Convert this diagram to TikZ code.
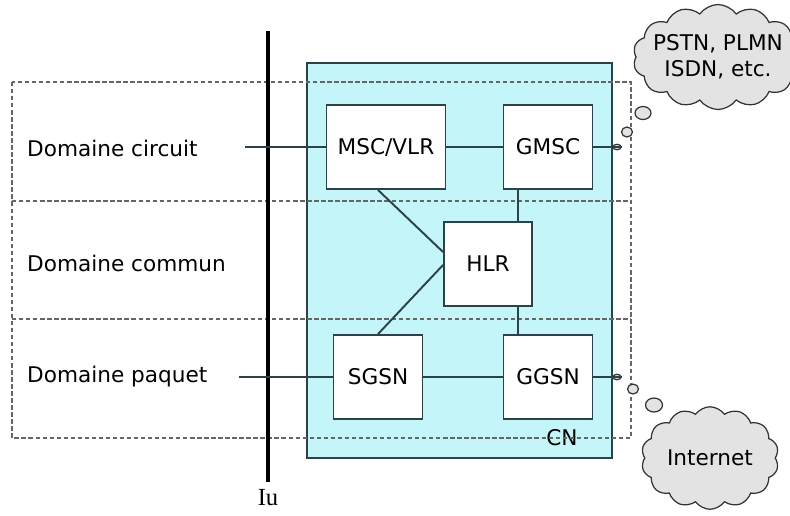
\documentclass[tikz,border=0pt]{standalone}
\usepackage{fontspec}
\setmainfont{DejaVu Sans}
\newfontfamily\iufont{Liberation Serif}
\usepackage{xcolor}
\usepackage{tikz}
\usetikzlibrary{positioning, shapes.geometric, shapes.symbols}
\definecolor{cnfill}{HTML}{C4F5F8}
\definecolor{cnline}{HTML}{2B4346}
\definecolor{cloudfill}{HTML}{E3E3E3}

\begin{document}
\begin{tikzpicture}[
  x=0.02cm, y=-0.02cm,
  every node/.style={font=\fontsize{12.3}{15}\selectfont},
  elem/.style={rectangle, draw=cnline, fill=white, line width=1.1pt,
    minimum width=#1, minimum height=1.68cm, inner sep=0pt},
  elem/.default=1.78cm,
  domline/.style={draw=gray!80!black, dash pattern=on 2.5pt off 1.5pt, line width=0.7pt},
  link/.style={draw=cnline, line width=1.1pt},
  bubble/.style={ellipse, draw=gray!40!black, fill=cloudfill, line width=0.7pt, inner sep=0pt},
  nuage/.style={cloud, cloud puffs=14, cloud puff arc=110, cloud ignores aspect, draw=gray!40!black,
    fill=cloudfill, line width=0.7pt, align=center},
]
  \useasboundingbox (0,0) rectangle (790,515);

  % core network area
  \draw[cnline, fill=cnfill, line width=1.1pt] (307,63) rectangle (612,458);
  \node (cn) at (562,438) {CN};

  % domains
  \draw[domline] (12,82) rectangle (631,438);
  \draw[domline] (12,201) -- (631,201);
  \draw[domline] (12,319) -- (631,319);
  \node[anchor=west] (lcircuit) at (21,148) {Domaine circuit};
  \node[anchor=west] (lcommun) at (21,263) {Domaine commun};
  \node[anchor=west] (lpaquet) at (21,377) {Domaine paquet};

  % Iu interface
  \draw[line width=2.8pt] (268,31) coordinate (iutop) -- (268,482) coordinate (iubot);
  \node[font=\iufont\fontsize{14}{16}\selectfont, below=0.02cm of iubot] (iu) {Iu};

  % network elements
  \node[elem=2.38cm] (msc) at (386,147) {MSC/VLR};
  \node[elem] (gmsc) at (548,147) {GMSC};
  \node[elem=1.76cm] (hlr) at (488,264) {HLR};
  \node[elem] (sgsn) at (378,377) {SGSN};
  \node[elem] (ggsn) at (548,377) {GGSN};

  % links
  \coordinate (inc) at (245,147);
  \coordinate (inp) at (239,377);
  \draw[link] (inc) -- (msc.west |- inc);
  \draw[link] (inp) -- (sgsn.west |- inp);
  \draw[link] (msc.east) -- (gmsc.west);
  \draw[link] (sgsn.east) -- (ggsn.west);
  \draw[link] ([xshift=-0.16cm]msc.south) -- ([yshift=0.24cm]hlr.west);
  \draw[link] (sgsn.north) -- ([yshift=-0.02cm]hlr.west);
  \draw[link] ([xshift=0.3cm]gmsc.south west) -- ([xshift=0.3cm]gmsc.south west |- hlr.north);
  \draw[link] ([xshift=0.3cm]ggsn.north west) -- ([xshift=0.3cm]ggsn.north west |- hlr.south);

  % external networks
  \node[bubble, minimum width=0.16cm, minimum height=0.11cm] (endc) at (617,147) {};
  \node[bubble, minimum width=0.16cm, minimum height=0.11cm] (endp) at (617,377) {};
  \draw[link] (gmsc.east |- endc) -- (endc.east);
  \draw[link] (ggsn.east |- endp) -- (endp.east);
  \node[bubble, minimum width=0.22cm, minimum height=0.2cm] (bc1) at (627,132) {};
  \node[bubble, minimum width=0.32cm, minimum height=0.26cm] (bc2) at (643,113) {};
  \node[bubble, minimum width=0.22cm, minimum height=0.2cm] (bp1) at (633,389) {};
  \node[bubble, minimum width=0.34cm, minimum height=0.28cm] (bp2) at (654,405) {};
  \node[nuage, inner sep=-6pt, minimum width=3.4cm, minimum height=2.1cm] (pstn) at (718,57)
    {PSTN, PLMN\\[0pt]ISDN, etc.};
  \node[nuage, inner sep=0pt, minimum width=2.75cm, minimum height=2.05cm] (internet) at (710,458)
    {Internet};
\end{tikzpicture}
\end{document}
